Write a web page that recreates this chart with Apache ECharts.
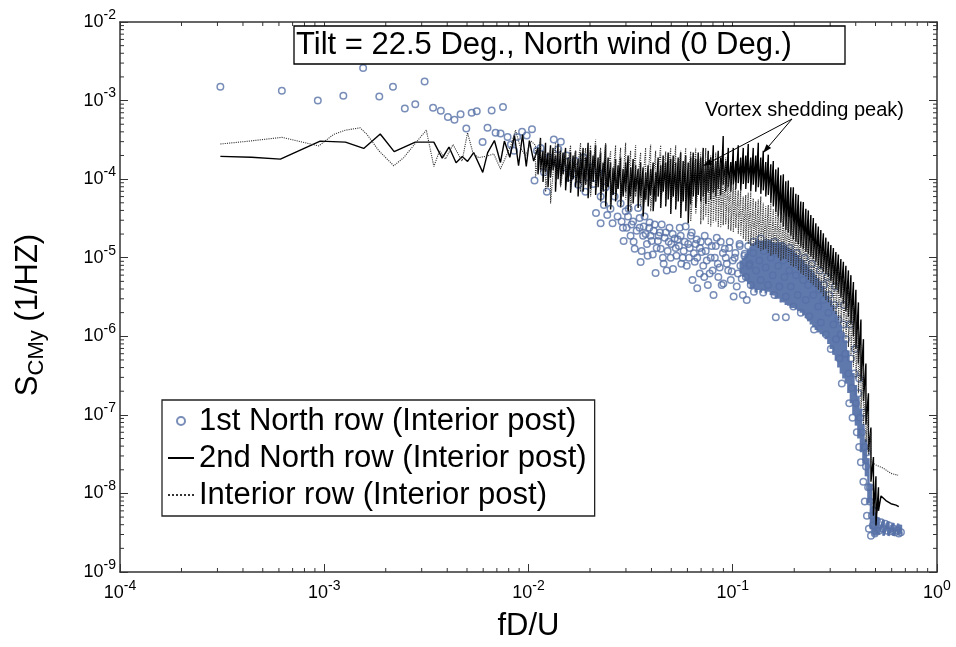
<!DOCTYPE html>
<html>
<head>
<meta charset="utf-8">
<title>S_CMy spectra</title>
<script src="https://cdn.jsdelivr.net/npm/echarts@6/dist/echarts.min.js"></script>
<style>
  html, body { margin: 0; padding: 0; background: #fff; }
  #chart { width: 956px; height: 647px; }
</style>
</head>
<body>
<div id="chart"></div>
<script>
const FONT = "'Liberation Sans', Arial, sans-serif"

// axis ranges
const xRange = [1e-4, 1]
const yRange = [1e-9, 1e-2]

const titleText = 'Tilt = 22.5 Deg., North wind (0 Deg.)'
const noteText = 'Vortex shedding peak)'
const legendNames = [
    '1st North row (Interior post)',
    '2nd North row (Interior post)',
    'Interior row (Interior post)',
]

// 1st North row (markers), [fD/U, S]
const firstRow = [
    [3.1e-4, 1.5e-3], [6.2e-4, 1.33e-3], [9.3e-4, 1.0e-3], [1.24e-3, 1.15e-3], [1.55e-3, 2.6e-3],
    [1.86e-3, 1.13e-3], [2.17e-3, 1.5e-3], [2.48e-3, 7.9e-4], [2.79e-3, 9.0e-4], [3.1e-3, 1.75e-3],
    [3.41e-3, 8.1e-4], [3.72e-3, 7.4e-4], [4.03e-3, 6.2e-4], [4.34e-3, 5.7e-4], [4.65e-3, 6.7e-4],
    [4.96e-3, 4.4e-4], [5.27e-3, 7.0e-4], [5.58e-3, 7.3e-4], [5.96e-3, 2.96e-4], [6.3e-3, 4.5e-4],
    [6.6e-3, 7.5e-4], [6.9e-3, 3.9e-4], [7.3e-3, 3.8e-4], [7.5e-3, 8.3e-4], [7.9e-3, 3.45e-4],
    [8.2e-3, 2.76e-4], [8.5e-3, 2.3e-4], [8.8e-3, 3.45e-4], [9.3e-3, 4.0e-4], [9.8e-3, 3.6e-4],
    [1.04e-2, 4.3e-4], [1.07e-2, 9.6e-5], [1.1e-2, 2.3e-4],
    [1.145e-2, 2.5e-4], [1.19e-2, 1.22e-4], [1.23e-2, 6.9e-5], [1.26e-2, 1.88e-4], [1.33e-2, 3.2e-4],
    [1.356e-2, 1.63e-4], [1.4e-2, 2.4e-4], [1.44e-2, 3.0e-4], [1.48e-2, 1.41e-4], [1.54e-2, 2.0e-4],
    [1.59e-2, 1.06e-4], [1.65e-2, 1.17e-4], [1.7e-2, 1.7e-4], [1.75e-2, 8.5e-5], [1.8e-2, 1.27e-4],
    [1.86e-2, 1.88e-4], [1.9e-2, 6.9e-5], [1.94e-2, 1.06e-4], [2.01e-2, 1.41e-4], [2.07e-2, 8.7e-5],
    [2.14e-2, 3.7e-5], [2.2e-2, 1.22e-4], [2.255e-2, 6.0e-5], [2.255e-2, 2.75e-5], [2.34e-2, 4.7e-5],
    [2.386e-2, 7.9e-5], [2.43e-2, 3.5e-5], [2.52e-2, 4.2e-5], [2.58e-2, 2.75e-5], [2.64e-2, 6.0e-5],
    [2.73e-2, 3.35e-5], [2.825e-2, 4.9e-5], [2.9e-2, 2.4e-5], [2.99e-2, 3.9e-5], [3.07e-2, 3.35e-5],
    [3.16e-2, 1.9e-5], [3.25e-2, 2.9e-5], [3.31e-2, 1.3e-5], [3.44e-2, 4.3e-5], [3.5e-2, 2.4e-5],
    [3.54e-2, 8.8e-6], [3.64e-2, 1.9e-5], [3.7e-2, 3.35e-5], [3.8e-2, 1.5e-5], [3.9e-2, 2.4e-5],
    [3.96e-2, 1.9e-5], [4.06e-2, 1.1e-5], [4.15e-2, 2.65e-5], [4.19e-2, 6.4e-6], [4.3e-2, 1.63e-5],
    [4.4e-2, 2.1e-5], [4.44e-2, 1.3e-5], [4.55e-2, 1.0e-5], [4.64e-2, 1.8e-5], [4.75e-2, 6.9e-6],
    [4.8e-2, 1.22e-5], [4.9e-2, 2.4e-5], [5.0e-2, 1.5e-5], [5.1e-2, 7.2e-6], [5.2e-2, 1.75e-5],
    [5.3e-2, 1.06e-5], [5.45e-2, 1.41e-5], [5.56e-2, 1.9e-5], [5.6e-2, 8.4e-6], [5.75e-2, 1.22e-5],
    [5.88e-2, 2.5e-5], [6.05e-2, 1.5e-5], [6.1e-2, 1.0e-5], [6.23e-2, 1.9e-5], [6.35e-2, 5.2e-6],
    [6.45e-2, 1.14e-5], [6.59e-2, 1.5e-5], [6.7e-2, 4.1e-6], [6.7e-2, 1.0e-5], [6.9e-2, 1.33e-5],
    [6.97e-2, 1.6e-5], [7.17e-2, 7.9e-6], [7.25e-2, 5.7e-6], [7.375e-2, 1.22e-5], [7.55e-2, 4.5e-6],
    [7.6e-2, 1.6e-5], [7.8e-2, 1.0e-5], [7.97e-2, 6.9e-6], [8.05e-2, 3.35e-6], [8.26e-2, 1.41e-5],
    [8.45e-2, 8.4e-6], [8.5e-2, 5.7e-6], [8.73e-2, 1.6e-5], [8.95e-2, 1.15e-5], [9.0e-2, 4.7e-6],
    [9.24e-2, 1.0e-5], [9.5e-2, 6.9e-6], [9.6e-2, 1.33e-5], [9.78e-2, 5.2e-6], [0.1, 9.2e-6],
    [0.101, 3.2e-6], [0.103, 1.15e-5], [0.106, 6.3e-6], [0.108, 1.5e-5], [0.109, 7.9e-6],
    [0.112, 3.35e-6], [0.114, 1.06e-5], [0.116, 5.7e-6], [0.119, 1.41e-5], [0.12, 7.9e-6],
    [0.1225, 4.5e-6], [0.126, 1.15e-5], [0.127, 3.7e-6], [0.13, 6.9e-6], [0.133, 1.5e-5],
    [0.135, 9.2e-6], [0.137, 5.2e-6], [0.141, 3.6e-6], [0.142, 1.22e-5], [0.145, 7.5e-6],
    [0.149, 4.5e-6], [0.15, 1.5e-5], [0.1536, 1.0e-5], [0.157, 6.0e-6], [0.16, 3.35e-6],
    [0.1625, 1.75e-6], [0.182, 1.75e-6],
    [2.857e-2, 2.9e-5], [2.922e-2, 1.63e-5], [3.024e-2, 2.4e-5], [3.093e-2, 4.2e-5], [3.198e-2, 2.65e-5],
    [3.271e-2, 1.6e-5], [3.384e-2, 2.2e-5], [3.5e-2, 3.2e-5], [3.58e-2, 1.22e-5], [3.661e-2, 2.5e-5],
    [3.746e-2, 2.0e-5], [3.832e-2, 1.06e-5], [3.918e-2, 2.8e-5], [4.008e-2, 1.63e-5], [4.1e-2, 2.2e-5],
    [4.241e-2, 1.33e-5], [4.338e-2, 1.9e-5], [4.488e-2, 2.65e-5], [4.59e-2, 8.4e-6], [4.695e-2, 2.1e-5],
    [4.857e-2, 1.6e-5], [4.967e-2, 1.0e-5], [5.081e-2, 2.0e-5], [5.256e-2, 1.33e-5], [5.376e-2, 1.7e-5],
    [5.5e-2, 2.4e-5], [5.688e-2, 1.0e-5], [5.82e-2, 1.6e-5], [5.951e-2, 7.9e-6], [6.156e-2, 1.33e-5],
    [6.297e-2, 2.1e-5], [6.513e-2, 8.9e-6], [6.662e-2, 1.7e-5], [6.892e-2, 6.3e-6], [7.05e-2, 1.18e-5],
    [7.29e-2, 1.9e-5], [7.46e-2, 9.2e-6], [7.71e-2, 6.3e-6], [7.89e-2, 1.41e-5], [8.17e-2, 1.0e-5],
    [8.35e-2, 1.8e-5], [8.63e-2, 7.5e-6], [8.83e-2, 4.5e-6], [9.14e-2, 1.3e-5], [9.35e-2, 8.4e-6],
    [9.67e-2, 1.6e-5], [9.89e-2, 6.7e-6], [0.1022, 1.0e-5], [0.1046, 4.3e-6], [0.1082, 1.41e-5],
    [0.1107, 5.4e-6], [0.1145, 1.12e-5], [0.1171, 2.9e-6], [0.1211, 8.4e-6],
    [0.1625, 1.15e-5], [0.167, 7.9e-6], [0.169, 4.3e-6], [0.172, 1.41e-5], [0.177, 9.2e-6],
    [0.179, 5.7e-6], [0.182, 3.2e-6], [0.187, 1.18e-5], [0.189, 6.9e-6], [0.1925, 4.3e-6],
    [0.198, 2.4e-6], [0.2, 1.0e-5], [0.204, 6.0e-6], [0.208, 3.35e-6], [0.211, 8.4e-6],
    [0.2154, 2.0e-6], [0.221, 5.2e-6], [0.225, 7.5e-6], [0.228, 2.9e-6], [0.234, 4.5e-6],
    [0.237, 1.8e-6], [0.241, 6.3e-6], [0.248, 3.35e-6], [0.25, 1.22e-6], [0.255, 4.7e-6],
    [0.262, 2.4e-6], [0.265, 3.9e-6], [0.27, 1.5e-6], [0.278, 2.9e-6], [0.28, 4.5e-6],
    [0.286, 1.06e-6], [0.294, 2.0e-6], [0.297, 3.35e-6], [0.302, 6.9e-7], [0.311, 1.41e-6],
    [0.315, 2.5e-6], [0.32, 9.2e-7], [0.329, 1.63e-6], [0.333, 5.2e-7], [0.338, 1.06e-6],
    [0.342, 2.5e-7], [0.348, 1.41e-6], [0.355, 6.0e-7], [0.358, 9.2e-7], [0.368, 3.35e-7],
    [0.372, 1.41e-7], [0.379, 5.2e-7], [0.383, 2.2e-7], [0.386, 9.2e-8], [0.394, 3.35e-7],
    [0.401, 1.41e-7], [0.405, 6.0e-8], [0.412, 1.88e-7], [0.416, 3.9e-8], [0.42, 9.2e-8],
    [0.424, 2.5e-8], [0.429, 6.0e-8], [0.436, 1.41e-8], [0.441, 3.9e-8], [0.443, 7.9e-9],
    [0.449, 2.2e-8], [0.454, 5.2e-9], [0.46, 1.2e-8], [0.464, 3.55e-9], [0.469, 7.9e-9],
    [0.475, 2.9e-9], [0.48, 5.2e-9], [0.485, 3.9e-9], [0.49, 6.0e-9], [0.496, 3.1e-9],
    [0.508, 4.5e-9], [0.52, 3.35e-9], [0.532, 4.3e-9], [0.545, 3.55e-9], [0.557, 4.1e-9],
    [0.569, 3.35e-9], [0.582, 3.9e-9], [0.595, 3.3e-9], [0.609, 3.6e-9], [0.622, 3.2e-9],
    [0.636, 3.4e-9], [0.65, 3.1e-9], [0.666, 3.2e-9],
    [0.126, 1.6e-5], [0.137, 1.75e-5], [0.147, 1.55e-5], [0.16, 1.6e-5], [0.175, 1.41e-5],
    [0.19, 1.33e-5], [0.206, 1.15e-5], [0.225, 1.0e-5], [0.244, 8.4e-6], [0.267, 6.9e-6],
    [0.29, 5.7e-6], [0.317, 4.3e-6], [0.35, 2.5e-6], [0.375, 1.41e-6], [0.397, 6.9e-7],
    [0.416, 2.9e-7], [0.436, 1.06e-7], [0.454, 3.35e-8], [0.469, 1.2e-8],
]

// 1st North row where the markers merge into a solid patch: [x, high, low]
const firstRowBand = [
    [0.1094, 9.2e-6, 6.3e-6], [0.1126, 1.0e-5, 5.7e-6], [0.1158, 1.12e-5, 5.0e-6],
    [0.1191, 1.28e-5, 4.6e-6], [0.1225, 1.4e-5, 4.0e-6], [0.126, 1.52e-5, 4.1e-6],
    [0.1296, 1.6e-5, 3.6e-6], [0.1334, 1.62e-5, 3.9e-6], [0.1372, 1.63e-5, 3.6e-6],
    [0.1411, 1.63e-5, 3.8e-6], [0.1451, 1.63e-5, 3.5e-6], [0.1493, 1.62e-5, 3.7e-6],
    [0.1536, 1.6e-5, 3.35e-6], [0.158, 1.58e-5, 3.3e-6], [0.1625, 1.55e-5, 3.0e-6],
    [0.1671, 1.52e-5, 3.0e-6], [0.1719, 1.5e-5, 2.7e-6], [0.1769, 1.46e-5, 2.7e-6],
    [0.1819, 1.41e-5, 2.5e-6], [0.1871, 1.36e-5, 2.45e-6], [0.1925, 1.3e-5, 2.3e-6],
    [0.198, 1.22e-5, 2.3e-6], [0.2037, 1.15e-5, 2.2e-6], [0.2095, 1.08e-5, 2.1e-6],
    [0.2154, 1.0e-5, 2.0e-6], [0.2216, 9.2e-6, 1.85e-6], [0.228, 8.4e-6, 1.7e-6],
    [0.2345, 7.7e-6, 1.55e-6], [0.2412, 7.1e-6, 1.41e-6], [0.2481, 6.5e-6, 1.3e-6],
    [0.2552, 6.0e-6, 1.2e-6], [0.2625, 5.5e-6, 1.12e-6], [0.27, 5.0e-6, 1.06e-6],
    [0.2778, 4.4e-6, 1.0e-6], [0.2857, 3.8e-6, 9.2e-7], [0.2939, 3.3e-6, 8.0e-7],
    [0.3023, 2.9e-6, 6.9e-7], [0.311, 2.5e-6, 5.8e-7], [0.3199, 2.1e-6, 4.9e-7],
    [0.329, 1.75e-6, 4.0e-7], [0.3384, 1.41e-6, 3.35e-7], [0.3481, 1.12e-6, 2.9e-7],
    [0.3581, 8.9e-7, 2.5e-7], [0.3684, 6.6e-7, 1.9e-7], [0.3789, 4.9e-7, 1.41e-7],
    [0.3898, 3.4e-7, 1.0e-7], [0.4009, 2.4e-7, 7.3e-8], [0.4124, 1.7e-7, 5.0e-8],
    [0.4242, 1.2e-7, 3.35e-8], [0.4364, 7.7e-8, 2.4e-8], [0.4488, 4.9e-8, 1.65e-8],
    [0.4617, 2.8e-8, 7.5e-9], [0.4749, 1.3e-8, 3.5e-9], [0.4885, 7.0e-9, 2.9e-9],
    [0.5025, 5.2e-9, 2.9e-9], [0.517, 4.9e-9, 3.0e-9], [0.547, 4.6e-9, 2.9e-9],
    [0.5785, 4.4e-9, 2.9e-9], [0.612, 4.2e-9, 2.9e-9], [0.647, 4.1e-9, 2.95e-9],
    [0.666, 4.0e-9, 3.0e-9],
]

// 2nd North row: sparse start, dense band as [x, high, low], tail
const secondRowStart = [
    [3.1e-4, 1.95e-4], [4.4e-4, 1.9e-4], [6.1e-4, 1.8e-4], [9.55e-4, 3.05e-4], [1.27e-3, 2.96e-4],
    [1.56e-3, 2.46e-4], [1.88e-3, 3.76e-4], [2.2e-3, 2.24e-4], [2.79e-3, 2.96e-4], [3.44e-3, 2.96e-4],
    [3.78e-3, 1.85e-4], [4.08e-3, 2.56e-4], [4.42e-3, 1.62e-4], [4.74e-3, 1.94e-4], [5.03e-3, 1.68e-4],
    [5.39e-3, 2.18e-4], [5.97e-3, 1.22e-4], [6.31e-3, 2.18e-4], [6.81e-3, 3.1e-4], [7.29e-3, 1.63e-4],
    [7.62e-3, 3.05e-4], [8.1e-3, 1.9e-4], [8.54e-3, 3.58e-4], [8.94e-3, 1.48e-4], [9.35e-3, 3.7e-4],
    [9.75e-3, 1.45e-4], [1.01e-2, 3.1e-4], [1.06e-2, 1.7e-4],
]
const secondRowBand = [
    [1.113e-2, 2.51e-4, 1.15e-4], [1.145e-2, 3.35e-4, 1.3e-4], [1.178e-2, 2.3e-4, 9.2e-5],
    [1.212e-2, 2.9e-4, 1.22e-4], [1.246e-2, 2.18e-4, 7.9e-5], [1.282e-2, 2.7e-4, 1.06e-4],
    [1.319e-2, 2.5e-4, 1.3e-4], [1.356e-2, 2.0e-4, 6.9e-5], [1.395e-2, 2.8e-4, 1.0e-4],
    [1.435e-2, 2.3e-4, 8.5e-5], [1.476e-2, 2.18e-4, 1.15e-4], [1.519e-2, 2.5e-4, 7.2e-5],
    [1.562e-2, 1.88e-4, 9.2e-5], [1.607e-2, 2.2e-4, 6.7e-5], [1.653e-2, 2.0e-4, 1.0e-4],
    [1.7e-2, 2.3e-4, 7.9e-5], [1.749e-2, 1.8e-4, 6.0e-5], [1.799e-2, 2.18e-4, 8.9e-5],
    [1.851e-2, 2.5e-4, 6.9e-5], [1.904e-2, 1.88e-4, 8.5e-5], [1.958e-2, 2.9e-4, 5.7e-5],
    [2.014e-2, 2.3e-4, 7.5e-5], [2.072e-2, 2.0e-4, 9.2e-5], [2.131e-2, 2.7e-4, 6.3e-5],
    [2.192e-2, 1.88e-4, 7.9e-5], [2.255e-2, 2.18e-4, 5.2e-5], [2.32e-2, 1.63e-4, 6.9e-5],
    [2.386e-2, 2.75e-4, 4.5e-5], [2.454e-2, 1.88e-4, 7.9e-5], [2.523e-2, 1.63e-4, 4.1e-5],
    [2.596e-2, 1.41e-4, 6.3e-5], [2.67e-2, 1.8e-4, 5.2e-5], [2.746e-2, 1.5e-4, 7.5e-5],
    [2.825e-2, 1.88e-4, 4.5e-5], [2.906e-2, 1.35e-4, 6.0e-5], [2.99e-2, 1.63e-4, 6.9e-5],
    [3.075e-2, 2.0e-4, 3.9e-5], [3.162e-2, 1.41e-4, 6.0e-5], [3.253e-2, 1.8e-4, 4.9e-5],
    [3.346e-2, 1.5e-4, 6.9e-5], [3.442e-2, 1.35e-4, 4.3e-5], [3.54e-2, 1.63e-4, 6.0e-5],
    [3.641e-2, 1.41e-4, 3.35e-5], [3.746e-2, 1.22e-4, 5.5e-5], [3.853e-2, 1.5e-4, 4.5e-5],
    [3.963e-2, 1.35e-4, 6.3e-5], [4.076e-2, 1.63e-4, 3.9e-5], [4.193e-2, 1.22e-4, 5.2e-5],
    [4.313e-2, 1.88e-4, 6.0e-5], [4.437e-2, 1.5e-4, 4.3e-5], [4.564e-2, 2.0e-4, 6.9e-5],
    [4.695e-2, 1.63e-4, 4.5e-5], [4.829e-2, 2.18e-4, 5.5e-5], [4.967e-2, 1.8e-4, 3.6e-5],
    [5.11e-2, 2.0e-4, 6.0e-5], [5.256e-2, 1.63e-4, 4.1e-5], [5.406e-2, 1.88e-4, 5.2e-5],
    [5.561e-2, 2.18e-4, 3.2e-5], [5.72e-2, 1.7e-4, 5.2e-5], [5.884e-2, 2.0e-4, 3.9e-5],
    [6.053e-2, 1.63e-4, 2.75e-5], [6.226e-2, 1.88e-4, 4.8e-5], [6.404e-2, 2.18e-4, 6.0e-5],
    [6.587e-2, 1.8e-4, 4.3e-5], [6.776e-2, 2.18e-4, 6.3e-5], [6.97e-2, 1.88e-4, 5.2e-5],
    [7.17e-2, 2.5e-4, 6.0e-5], [7.375e-2, 1.7e-4, 4.8e-5], [7.586e-2, 2.3e-4, 6.9e-5],
    [7.8e-2, 1.88e-4, 5.5e-5], [8.03e-2, 2.7e-4, 6.7e-5], [8.26e-2, 1.7e-4, 6.0e-5],
    [8.49e-2, 2.3e-4, 7.5e-5], [8.73e-2, 1.88e-4, 6.3e-5], [8.98e-2, 3.55e-4, 8.5e-5],
    [9.24e-2, 1.7e-4, 6.9e-5], [9.51e-2, 2.5e-4, 7.9e-5], [9.78e-2, 1.65e-4, 6.9e-5],
    [0.1006, 2.5e-4, 8.5e-5], [0.1034, 1.7e-4, 7.5e-5], [0.1064, 2.7e-4, 8.9e-5],
    [0.1094, 1.88e-4, 7.2e-5], [0.1126, 2.5e-4, 8.7e-5], [0.1158, 2.0e-4, 7.5e-5],
    [0.1191, 2.8e-4, 8.9e-5], [0.1225, 1.88e-4, 7.0e-5], [0.126, 2.5e-4, 8.5e-5],
    [0.1296, 2.0e-4, 6.9e-5], [0.1334, 2.9e-4, 7.9e-5], [0.1372, 1.88e-4, 6.5e-5],
    [0.1411, 2.3e-4, 7.2e-5], [0.1451, 1.65e-4, 6.0e-5], [0.1493, 2.05e-4, 6.3e-5],
    [0.1536, 1.55e-4, 5.0e-5], [0.158, 1.7e-4, 4.5e-5], [0.1625, 1.33e-4, 3.8e-5],
    [0.1671, 1.41e-4, 3.35e-5], [0.1719, 1.12e-4, 2.8e-5], [0.1769, 1.15e-4, 2.5e-5],
    [0.1819, 9.4e-5, 2.25e-5], [0.1871, 9.6e-5, 2.1e-5], [0.1925, 7.9e-5, 1.9e-5],
    [0.198, 7.9e-5, 1.73e-5], [0.2037, 6.5e-5, 1.6e-5], [0.2095, 6.3e-5, 1.5e-5],
    [0.2154, 5.2e-5, 1.38e-5], [0.2216, 5.1e-5, 1.3e-5], [0.228, 4.2e-5, 1.18e-5],
    [0.2345, 4.0e-5, 1.12e-5], [0.2412, 3.5e-5, 1.03e-5], [0.2481, 3.2e-5, 9.6e-6],
    [0.2552, 2.75e-5, 8.9e-6], [0.2625, 2.5e-5, 7.9e-6], [0.27, 2.25e-5, 7.3e-6],
    [0.2778, 2.05e-5, 6.7e-6], [0.2857, 1.8e-5, 6.2e-6], [0.2939, 1.6e-5, 5.7e-6],
    [0.3023, 1.45e-5, 5.0e-6], [0.311, 1.33e-5, 4.5e-6], [0.3199, 1.18e-5, 4.0e-6],
    [0.329, 1.1e-5, 3.6e-6], [0.3384, 9.6e-6, 3.1e-6], [0.3481, 8.9e-6, 2.6e-6],
    [0.3581, 7.9e-6, 2.1e-6], [0.3684, 6.9e-6, 1.78e-6], [0.3789, 6.0e-6, 1.41e-6],
    [0.3898, 4.9e-6, 1.0e-6], [0.4009, 3.9e-6, 6.9e-7], [0.4124, 2.7e-6, 4.5e-7],
    [0.4242, 1.63e-6, 2.7e-7], [0.4364, 9.2e-7, 1.5e-7], [0.4488, 4.5e-7, 7.5e-8],
    [0.4617, 1.88e-7, 3.35e-8], [0.4749, 6.9e-8, 1.41e-8], [0.4885, 2.9e-8, 5.2e-9],
    [0.5025, 1.65e-8, 3.9e-9], [0.517, 1.2e-8, 6.0e-9],
]
const secondRowTail = [[0.532, 9.3e-9], [0.562, 8.1e-9], [0.595, 7.4e-9], [0.63, 7.1e-9], [0.65, 6.8e-9]]

// Interior row: sparse start, dense band as [x, high, low], tail
const interiorRowStart = [
    [3.1e-4, 2.8e-4], [4.3e-4, 3.05e-4], [6.2e-4, 3.4e-4], [9.4e-4, 2.65e-4], [1.11e-3, 3.7e-4],
    [1.27e-3, 4.2e-4], [1.5e-3, 4.5e-4], [1.62e-3, 3.7e-4], [1.85e-3, 2.3e-4], [2.19e-3, 1.48e-4],
    [2.45e-3, 1.88e-4], [2.85e-3, 3.05e-4], [3.16e-3, 4.2e-4], [3.44e-3, 1.45e-4], [3.67e-3, 2.3e-4],
    [3.92e-3, 1.8e-4], [4.27e-3, 2.75e-4], [4.73e-3, 1.7e-4], [5.03e-3, 3.9e-4], [5.36e-3, 2.1e-4],
    [5.71e-3, 1.88e-4], [6.28e-3, 1.97e-4], [6.76e-3, 2.1e-4], [7.29e-3, 1.35e-4], [7.72e-3, 1.88e-4],
    [8.22e-3, 2.75e-4], [8.64e-3, 4.2e-4], [9.14e-3, 2.5e-4], [9.67e-3, 1.97e-4], [1.03e-2, 3.05e-4],
]
const interiorRowBand = [
    [1.082e-2, 2.7e-4, 1.06e-4], [1.145e-2, 3.2e-4, 1.22e-4], [1.212e-2, 2.18e-4, 6.9e-5],
    [1.282e-2, 2.5e-4, 4.9e-5], [1.356e-2, 2.9e-4, 9.2e-5], [1.435e-2, 2.5e-4, 7.9e-5],
    [1.519e-2, 2.18e-4, 1.06e-4], [1.607e-2, 2.7e-4, 7.2e-5], [1.7e-2, 2.3e-4, 9.2e-5],
    [1.799e-2, 2.9e-4, 6.9e-5], [1.904e-2, 2.5e-4, 8.5e-5], [2.014e-2, 2.7e-4, 6.0e-5],
    [2.131e-2, 3.2e-4, 7.5e-5], [2.255e-2, 2.5e-4, 5.2e-5], [2.386e-2, 2.9e-4, 6.9e-5],
    [2.523e-2, 2.3e-4, 4.5e-5], [2.67e-2, 2.7e-4, 6.0e-5], [2.825e-2, 2.5e-4, 4.3e-5],
    [2.99e-2, 2.9e-4, 5.5e-5], [3.162e-2, 2.3e-4, 3.9e-5], [3.346e-2, 2.7e-4, 6.0e-5],
    [3.54e-2, 2.18e-4, 4.5e-5], [3.746e-2, 2.5e-4, 5.2e-5], [3.963e-2, 2.75e-4, 3.9e-5],
    [4.193e-2, 2.3e-4, 5.2e-5], [4.437e-2, 2.7e-4, 4.3e-5], [4.695e-2, 2.25e-4, 4.8e-5],
    [4.967e-2, 2.5e-4, 3.6e-5], [5.256e-2, 2.7e-4, 4.5e-5], [5.561e-2, 2.3e-4, 3.2e-5],
    [5.884e-2, 2.5e-4, 3.9e-5], [6.226e-2, 2.25e-4, 2.9e-5], [6.587e-2, 2.5e-4, 3.6e-5],
    [6.97e-2, 2.18e-4, 2.65e-5], [7.17e-2, 2.3e-4, 3.0e-5], [7.375e-2, 2.5e-4, 3.35e-5],
    [7.586e-2, 2.1e-4, 2.65e-5], [7.8e-2, 2.0e-4, 2.5e-5], [8.03e-2, 1.88e-4, 2.8e-5],
    [8.26e-2, 2.18e-4, 2.9e-5], [8.49e-2, 1.8e-4, 2.45e-5], [8.73e-2, 1.63e-4, 2.4e-5],
    [8.98e-2, 1.41e-4, 2.6e-5], [9.24e-2, 1.88e-4, 2.65e-5], [9.51e-2, 1.12e-4, 2.3e-5],
    [9.78e-2, 1.22e-4, 2.2e-5], [0.1006, 8.5e-5, 2.1e-5], [0.1034, 9.2e-5, 2.4e-5],
    [0.1064, 7.2e-5, 2.0e-5], [0.1094, 7.5e-5, 1.9e-5], [0.1126, 6.0e-5, 1.73e-5],
    [0.1158, 6.3e-5, 1.63e-5], [0.1191, 6.7e-5, 1.5e-5], [0.1225, 6.9e-5, 1.41e-5],
    [0.126, 5.7e-5, 1.41e-5], [0.1296, 5.2e-5, 1.45e-5], [0.1334, 5.5e-5, 1.33e-5],
    [0.1372, 6.0e-5, 1.22e-5], [0.1411, 5.0e-5, 1.26e-5], [0.1451, 4.5e-5, 1.3e-5],
    [0.1493, 4.7e-5, 1.15e-5], [0.1536, 5.2e-5, 1.06e-5], [0.158, 4.2e-5, 1.1e-5],
    [0.1625, 3.9e-5, 1.1e-5], [0.1671, 4.0e-5, 1.0e-5], [0.1719, 4.1e-5, 9.2e-6],
    [0.1769, 3.7e-5, 9.6e-6], [0.1819, 3.35e-5, 9.6e-6], [0.1871, 3.3e-5, 8.7e-6],
    [0.1925, 3.2e-5, 7.9e-6], [0.198, 2.9e-5, 7.7e-6], [0.2037, 2.65e-5, 7.5e-6],
    [0.2095, 2.5e-5, 6.9e-6], [0.2154, 2.4e-5, 6.3e-6], [0.2216, 2.2e-5, 6.0e-6],
    [0.228, 2.0e-5, 5.7e-6], [0.2345, 1.9e-5, 5.2e-6], [0.2412, 1.8e-5, 4.8e-6],
    [0.2481, 1.63e-5, 4.5e-6], [0.2552, 1.5e-5, 4.2e-6], [0.2625, 1.41e-5, 3.9e-6],
    [0.27, 1.33e-5, 3.6e-6], [0.2778, 1.22e-5, 3.2e-6], [0.2857, 1.1e-5, 2.9e-6],
    [0.2939, 1.03e-5, 2.7e-6], [0.3023, 9.6e-6, 2.4e-6], [0.311, 8.7e-6, 2.1e-6],
    [0.3199, 7.9e-6, 1.9e-6], [0.329, 7.1e-6, 1.63e-6], [0.3384, 6.3e-6, 1.41e-6],
    [0.3481, 5.5e-6, 1.12e-6], [0.3581, 4.7e-6, 9.2e-7], [0.3684, 4.0e-6, 7.3e-7],
    [0.3789, 3.35e-6, 5.7e-7], [0.3898, 2.5e-6, 4.1e-7], [0.4009, 1.9e-6, 2.9e-7],
    [0.4124, 1.22e-6, 1.88e-7], [0.4242, 7.9e-7, 1.2e-7], [0.4364, 4.2e-7, 7.5e-8],
    [0.4488, 2.2e-7, 4.5e-8], [0.4617, 1.12e-7, 3.1e-8], [0.4749, 6.0e-8, 2.5e-8],
]
const interiorRowTail = [[0.5025, 2.3e-8], [0.545, 2.1e-8], [0.595, 1.8e-8], [0.645, 1.7e-8]]

/**
 * @description [x, high, low] -> zigzag of points
 */
const bandToLine = (band) => {
    const out = []
    band.forEach(([x, hi, lo]) => {
        out.push([x, hi])
        out.push([x, lo])
    })
    return out
}

// minor tick positions 2..9 x 10^p
const minorTicks = (from, to) => {
    const list = []
    for (let p = from; p < to; p++) {
        for (let m = 2; m <= 9; m++) list.push(m * Math.pow(10, p))
    }
    return list
}

const arrow = (x1, y1, x2, y2) => {
    const len = Math.hypot(x2 - x1, y2 - y1)
    const ux = (x2 - x1) / len
    const uy = (y2 - y1) / len
    const bx = x2 - ux * 9
    const by = y2 - uy * 9
    return [
        { type: 'line', shape: { x1, y1, x2: bx, y2: by }, style: { stroke: '#000', lineWidth: 1 }, z: 20 },
        {
            type: 'polygon',
            shape: { points: [[x2, y2], [bx - uy * 3, by + ux * 3], [bx + uy * 3, by - ux * 3]] },
            style: { fill: '#000' },
            z: 20,
        },
    ]
}

const AXIS_COLOR = '#333'
const BLUE = '#5670a6'
const tickStyle = { stroke: AXIS_COLOR, lineWidth: 1 }

const powLabel = (value) => {
    const e = Math.round(Math.log10(value))
    return `{b|10}{e|${e}}`
}
const labelRich = {
    b: { fontSize: 18, fontFamily: FONT, color: '#000', lineHeight: 28 },
    e: { fontSize: 14, fontFamily: FONT, color: '#000', lineHeight: 14, verticalAlign: 'top' },
}

const logAxis = (range, position, showLabel) => ({
    type: 'log',
    logBase: 10,
    min: range[0],
    max: range[1],
    position,
    axisLine: { show: true, onZero: false, lineStyle: { color: AXIS_COLOR, width: 1.5 } },
    axisTick: { show: true, inside: true, length: 8, lineStyle: { color: AXIS_COLOR, width: 1 } },
    axisLabel: { show: showLabel, formatter: powLabel, rich: labelRich, margin: 4 },
    splitLine: { show: false },
    minorTick: { show: false },
})

const xMain = logAxis(xRange, 'bottom', true)
xMain.axisLabel.margin = 7
const yMain = logAxis(yRange, 'left', true)

const chart = echarts.init(document.getElementById('chart'))

const option = {
    animation: false,
    backgroundColor: '#fff',
    grid: { left: 120, right: 19, top: 22, bottom: 65 },
    xAxis: [
        Object.assign(xMain, {
            name: 'fD/U',
            nameLocation: 'middle',
            nameGap: 39,
            nameTextStyle: { fontSize: 31, fontFamily: FONT, color: '#000' },
        }),
        logAxis(xRange, 'top', false),
    ],
    yAxis: [yMain, logAxis(yRange, 'right', false)],
    legend: {
        orient: 'vertical',
        left: 162,
        top: 400,
        padding: [4, 8, 4, 5],
        itemGap: 3,
        itemWidth: 26,
        itemHeight: 8,
        borderColor: '#222',
        borderWidth: 1.3,
        borderRadius: 0,
        backgroundColor: '#fff',
        textStyle: { fontSize: 31, fontFamily: FONT, color: '#000', lineHeight: 34 },
        data: [
            { name: legendNames[0] },
            { name: legendNames[1], itemStyle: { opacity: 0 } },
            { name: legendNames[2], itemStyle: { opacity: 0 } },
        ],
    },
    series: [
        {
            type: 'line',
            silent: true,
            data: bandToLine(firstRowBand),
            symbol: 'none',
            showSymbol: false,
            lineStyle: { color: '#6079ad', width: 2.5 },
            z: 1,
        },
        {
            name: legendNames[0],
            type: 'scatter',
            data: firstRow,
            symbol: 'circle',
            symbolSize: 6.5,
            itemStyle: { color: 'rgba(255,255,255,0)', borderColor: BLUE, borderWidth: 1.5 },
            z: 2,
        },
        {
            name: legendNames[1],
            type: 'line',
            data: [...secondRowStart, ...bandToLine(secondRowBand), ...secondRowTail],
            symbol: 'none',
            showSymbol: false,
            lineStyle: { color: '#000', width: 1.4 },
            itemStyle: { color: '#000' },
            z: 3,
        },
        {
            name: legendNames[2],
            type: 'line',
            data: [...interiorRowStart, ...bandToLine(interiorRowBand), ...interiorRowTail],
            symbol: 'none',
            showSymbol: false,
            lineStyle: { color: '#333', width: 1.1, type: 'dotted' },
            itemStyle: { color: '#333' },
            z: 4,
        },
        {
            type: 'custom',
            silent: true,
            data: minorTicks(-4, 0).map(v => [v, yRange[0]]),
            renderItem: (params, api) => {
                const v = api.value(0)
                const b = api.coord([v, yRange[0]])
                const t = api.coord([v, yRange[1]])
                return {
                    type: 'group',
                    children: [
                        { type: 'line', shape: { x1: b[0], y1: b[1], x2: b[0], y2: b[1] - 4 }, style: tickStyle },
                        { type: 'line', shape: { x1: t[0], y1: t[1], x2: t[0], y2: t[1] + 4 }, style: tickStyle },
                    ],
                }
            },
            z: 6,
        },
        {
            type: 'custom',
            silent: true,
            data: minorTicks(-9, -2).map(v => [xRange[0], v]),
            renderItem: (params, api) => {
                const v = api.value(1)
                const l = api.coord([xRange[0], v])
                const r = api.coord([xRange[1], v])
                return {
                    type: 'group',
                    children: [
                        { type: 'line', shape: { x1: l[0], y1: l[1], x2: l[0] + 4, y2: l[1] }, style: tickStyle },
                        { type: 'line', shape: { x1: r[0], y1: r[1], x2: r[0] - 4, y2: r[1] }, style: tickStyle },
                    ],
                }
            },
            z: 6,
        },
    ],
    graphic: [
        {
            type: 'rect',
            shape: { x: 294, y: 26, width: 551, height: 38 },
            style: { fill: '#fff', stroke: '#000', lineWidth: 1.3 },
            z: 20,
        },
        {
            type: 'text',
            x: 296,
            y: 45,
            style: { text: titleText, font: `31px ${FONT}`, fill: '#000', verticalAlign: 'middle' },
            z: 21,
        },
        {
            type: 'text',
            x: 705,
            y: 110,
            style: { text: noteText, font: `20px ${FONT}`, fill: '#000', verticalAlign: 'middle' },
            z: 21,
        },
        ...arrow(792, 119, 703, 166),
        ...arrow(792, 119, 763, 153),
        {
            type: 'text',
            x: 28,
            y: 315,
            rotation: Math.PI / 2,
            style: {
                text: '{s|S}{sub|CMy}{n| (1/HZ)}',
                align: 'center',
                verticalAlign: 'middle',
                rich: {
                    s: { fontSize: 31, fontFamily: FONT, fill: '#000', lineHeight: 40 },
                    sub: { fontSize: 22, fontFamily: FONT, fill: '#000', lineHeight: 16, verticalAlign: 'bottom' },
                    n: { fontSize: 31, fontFamily: FONT, fill: '#000', lineHeight: 40 },
                },
            },
            z: 21,
        },
    ],
}

chart.setOption(option)
window.addEventListener('resize', () => {
    chart.resize()
})
</script>
</body>
</html>
